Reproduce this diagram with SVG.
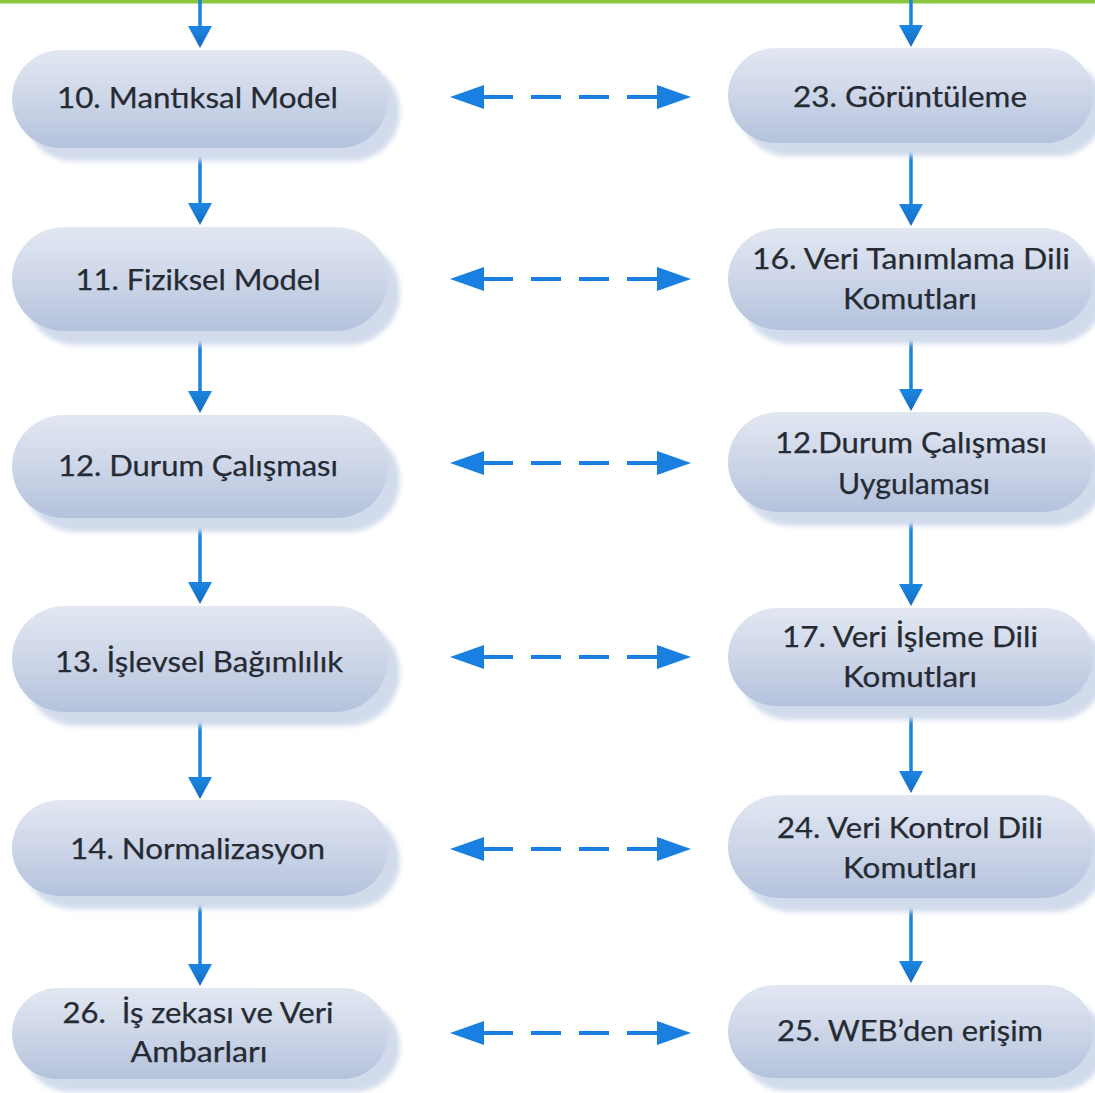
<svg xmlns="http://www.w3.org/2000/svg" width="1095" height="1093" viewBox="0 0 1095 1093">
<style>
  .lbl { font-family: "Lato", "Open Sans", "Liberation Sans", sans-serif; font-size: 28px; fill: #252a33; text-anchor: middle; stroke: #252a33; stroke-width: 0.25; }
  .body { fill: url(#nodeGrad); }
  .shadow { fill: #d2dbec; filter: url(#blur); }
  .vline { stroke: #1a84dc; stroke-width: 3.5; fill: none; marker-end: url(#headDown); }
  .dline { stroke: #1a80e0; stroke-width: 4; fill: none; stroke-dasharray: 30 18; marker-start: url(#headH); marker-end: url(#headH); }
</style>
<defs>
  <linearGradient id="nodeGrad" x1="0" y1="0" x2="0" y2="1">
    <stop offset="0" stop-color="#e2e7f2"/>
    <stop offset="0.55" stop-color="#cbd4e7"/>
    <stop offset="1" stop-color="#b4c2dc"/>
  </linearGradient>
  <linearGradient id="headGrad" x1="0" y1="0" x2="1" y2="0">
    <stop offset="0" stop-color="#1b86e2"/>
    <stop offset="1" stop-color="#166bc0"/>
  </linearGradient>
  <filter id="blur" x="-5%" y="-20%" width="110%" height="140%">
    <feGaussianBlur stdDeviation="2.5"/>
  </filter>
  <marker id="headDown" viewBox="0 0 22 24" refX="18" refY="12" markerWidth="22" markerHeight="24" markerUnits="userSpaceOnUse" orient="auto">
    <path d="M0,0 L22,12 L0,24 Z" fill="url(#headGrad)"/>
  </marker>
  <marker id="headH" viewBox="0 0 34 24" refX="1" refY="12" markerWidth="34" markerHeight="24" markerUnits="userSpaceOnUse" orient="auto-start-reverse">
    <path d="M0,0 L34,12 L0,24 Z" fill="#1a80e0"/>
  </marker>
</defs>

<rect x="0" y="0" width="1095" height="1093" fill="#ffffff"/>
<rect x="0" y="0" width="1095" height="3.5" fill="#8cc63f"/>

<g id="connectors">
  <line class="vline" x1="200" y1="0" x2="200" y2="44"/>
  <line class="vline" x1="200" y1="148" x2="200" y2="221"/>
  <line class="vline" x1="200" y1="332" x2="200" y2="409"/>
  <line class="vline" x1="200" y1="518" x2="200" y2="600"/>
  <line class="vline" x1="200" y1="712" x2="200" y2="795"/>
  <line class="vline" x1="200" y1="895" x2="200" y2="982"/>
  <line class="vline" x1="911" y1="0" x2="911" y2="43"/>
  <line class="vline" x1="911" y1="143" x2="911" y2="222"/>
  <line class="vline" x1="911" y1="330" x2="911" y2="407"/>
  <line class="vline" x1="911" y1="512" x2="911" y2="602"/>
  <line class="vline" x1="911" y1="706" x2="911" y2="789"/>
  <line class="vline" x1="911" y1="898" x2="911" y2="979"/>
  <line class="dline" x1="483" y1="97" x2="658" y2="97"/>
  <line class="dline" x1="483" y1="279" x2="658" y2="279"/>
  <line class="dline" x1="483" y1="463" x2="658" y2="463"/>
  <line class="dline" x1="483" y1="657" x2="658" y2="657"/>
  <line class="dline" x1="483" y1="849" x2="658" y2="849"/>
  <line class="dline" x1="483" y1="1033" x2="658" y2="1033"/>
</g>

<g id="node-10">
  <rect class="shadow" x="24" y="63" width="376" height="98" rx="49"/>
  <rect class="body" x="12" y="50" width="376" height="98" rx="49"/>
  <text class="lbl" x="197.5" y="108" textLength="281" lengthAdjust="spacingAndGlyphs">10. Mantıksal Model</text>
</g>
<g id="node-11">
  <rect class="shadow" x="24" y="241" width="376" height="104" rx="52"/>
  <rect class="body" x="12" y="227" width="376" height="104" rx="52"/>
  <text class="lbl" x="198" y="290" textLength="245" lengthAdjust="spacingAndGlyphs">11. Fiziksel Model</text>
</g>
<g id="node-12">
  <rect class="shadow" x="24" y="429" width="376" height="103" rx="51.5"/>
  <rect class="body" x="12" y="415" width="376" height="103" rx="51.5"/>
  <text class="lbl" x="198" y="476" textLength="280" lengthAdjust="spacingAndGlyphs">12. Durum Çalışması</text>
</g>
<g id="node-13">
  <rect class="shadow" x="24" y="620" width="376" height="106" rx="53"/>
  <rect class="body" x="12" y="606" width="376" height="106" rx="53"/>
  <text class="lbl" x="199" y="672" textLength="288" lengthAdjust="spacingAndGlyphs">13. İşlevsel Bağımlılık</text>
</g>
<g id="node-14">
  <rect class="shadow" x="24" y="813" width="376" height="96" rx="48"/>
  <rect class="body" x="12" y="800" width="376" height="96" rx="48"/>
  <text class="lbl" x="197.5" y="859" textLength="255" lengthAdjust="spacingAndGlyphs">14. Normalizasyon</text>
</g>
<g id="node-26">
  <rect class="shadow" x="24" y="1001" width="376" height="91" rx="45.5"/>
  <rect class="body" x="12" y="988" width="376" height="91" rx="45.5"/>
  <text class="lbl" x="198" y="1023" textLength="271" lengthAdjust="spacingAndGlyphs">26.&#160; İş zekası ve Veri</text>
  <text class="lbl" x="199" y="1062" textLength="137" lengthAdjust="spacingAndGlyphs">Ambarları</text>
</g>

<g id="node-23">
  <rect class="shadow" x="740" y="61" width="365" height="95" rx="47.5"/>
  <rect class="body" x="728" y="48" width="365" height="95" rx="47.5"/>
  <text class="lbl" x="910" y="107" textLength="234" lengthAdjust="spacingAndGlyphs">23. Görüntüleme</text>
</g>
<g id="node-16">
  <rect class="shadow" x="740" y="242" width="365" height="102" rx="51"/>
  <rect class="body" x="728" y="228" width="365" height="102" rx="51"/>
  <text class="lbl" x="911" y="269" textLength="318" lengthAdjust="spacingAndGlyphs">16. Veri Tanımlama Dili</text>
  <text class="lbl" x="910" y="309" textLength="134" lengthAdjust="spacingAndGlyphs">Komutları</text>
</g>
<g id="node-12b">
  <rect class="shadow" x="740" y="426" width="365" height="100" rx="50"/>
  <rect class="body" x="728" y="412" width="365" height="100" rx="50"/>
  <text class="lbl" x="911" y="453" textLength="272" lengthAdjust="spacingAndGlyphs">12.Durum Çalışması</text>
  <text class="lbl" x="914" y="494" textLength="152" lengthAdjust="spacingAndGlyphs">Uygulaması</text>
</g>
<g id="node-17">
  <rect class="shadow" x="740" y="622" width="365" height="98" rx="49"/>
  <rect class="body" x="728" y="608" width="365" height="98" rx="49"/>
  <text class="lbl" x="910" y="647" textLength="256" lengthAdjust="spacingAndGlyphs">17. Veri İşleme Dili</text>
  <text class="lbl" x="910" y="687" textLength="134" lengthAdjust="spacingAndGlyphs">Komutları</text>
</g>
<g id="node-24">
  <rect class="shadow" x="740" y="809" width="365" height="103" rx="51.5"/>
  <rect class="body" x="728" y="795" width="365" height="103" rx="51.5"/>
  <text class="lbl" x="910" y="838" textLength="266" lengthAdjust="spacingAndGlyphs">24. Veri Kontrol Dili</text>
  <text class="lbl" x="910" y="878" textLength="134" lengthAdjust="spacingAndGlyphs">Komutları</text>
</g>
<g id="node-25">
  <rect class="shadow" x="740" y="998" width="365" height="93" rx="46.5"/>
  <rect class="body" x="728" y="985" width="365" height="93" rx="46.5"/>
  <text class="lbl" x="910" y="1041" textLength="266" lengthAdjust="spacingAndGlyphs">25. WEB’den erişim</text>
</g>
</svg>
